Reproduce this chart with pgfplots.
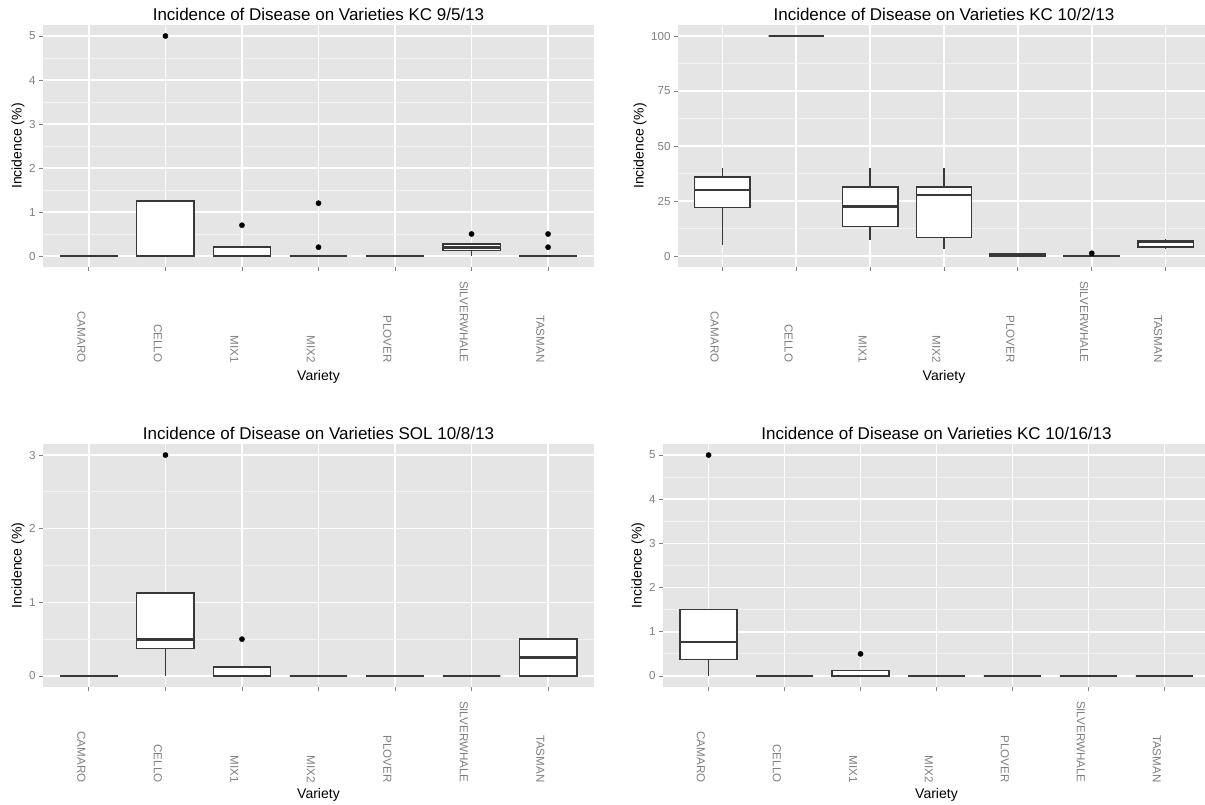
\documentclass[border=0pt]{standalone}
\usepackage{pgfplots}
\pgfplotsset{compat=1.18}
\usepgfplotslibrary{statistics}
\usepackage{fontspec}
\setmainfont{Liberation Sans}
\definecolor{ggbg}{HTML}{E5E5E5}
\definecolor{ggminor}{HTML}{F2F2F2}
\definecolor{ggtext}{HTML}{7F7F7F}
\definecolor{ggbox}{HTML}{383838}
\pgfplotsset{
  ggpanel/.style={
    scale only axis,
    xmin=0.4, xmax=7.6,
    xtick={1,2,3,4,5,6,7},
    xticklabels={CAMARO,CELLO,MIX1,MIX2,PLOVER,SILVERWHALE,TASMAN},
    axis background/.style={fill=ggbg},
    axis line style={draw=none},
    xmajorgrids=true, ymajorgrids=true, yminorgrids=true,
    major grid style={white, line width=1.6pt},
    minor grid style={ggminor, line width=0.8pt},
    tick align=outside, tick pos=left,
    major tick length=4pt, minor tick length=0pt,
    tick style={ggtext, line width=0.9pt},
    ticklabel style={font=\fontsize{11.6}{13}\selectfont, text=ggtext},
    xticklabel style={rotate=-90, anchor=north east},
    xticklabel shift=95pt,
    title style={font=\fontsize{17}{20}\selectfont, at={(0.5,1)}, anchor=base, yshift=-1.5pt},
    label style={font=\fontsize{14}{16}\selectfont},
    xlabel={Variety}, ylabel={Incidence (\%)},
    /pgf/number format/assume math mode=true,
  },
  boxst/.style={
    boxplot/draw direction=y,
    boxplot/box extend=0.75,
    boxplot/whisker extend=0,
    draw=ggbox, line width=1.5pt, fill=white, solid,
    boxplot/every median/.style={line width=2.8pt},
  },
  outl/.style={only marks, mark=*, mark size=2.6pt, black, mark options={draw=black, fill=black}},
}
% \bx{position}{lower whisker}{lower quartile}{median}{upper quartile}{upper whisker}
\newcommand{\bx}[6]{\addplot[boxst, boxplot prepared={draw position=#1, lower whisker=#2, lower quartile=#3, median=#4, upper quartile=#5, upper whisker=#6}] coordinates {};}
\begin{document}
\begin{tikzpicture}
\useasboundingbox (0,0) rectangle (1205pt,-804pt);
\clip (0,0) rectangle (1205pt,-804pt);
% Panel 1
\begin{axis}[ggpanel, at={(43pt,-267pt)}, anchor=south west, width=551pt, height=242pt,
  ymin=-0.25, ymax=5.25, ytick={0,1,2,3,4,5}, minor ytick={0.5,1.5,2.5,3.5,4.5},
  title={Incidence of Disease on Varieties KC 9/5/13},
  xlabel style={at={(axis description cs:0.5,-0.452)}, anchor=center},
  ylabel style={at={(axis description cs:-0.0454,0.5)}, anchor=center}]
\bx{1}{0}{0}{0}{0}{0}
\bx{2}{0}{0}{0}{1.25}{1.25}
\bx{3}{0}{0}{0}{0.2}{0.2}
\bx{4}{0}{0}{0}{0}{0}
\bx{5}{0}{0}{0}{0}{0}
\bx{6}{0}{0.125}{0.2}{0.27}{0.27}
\bx{7}{0}{0}{0}{0}{0}
\addplot[outl] coordinates {(2,5) (3,0.7) (4,0.2) (4,1.2) (6,0.5) (7,0.2) (7,0.5)};
\end{axis}
% Panel 2
\begin{axis}[ggpanel, at={(678pt,-267pt)}, anchor=south west, width=532pt, height=242pt,
  ymin=-5, ymax=105, ytick={0,25,50,75,100}, minor ytick={12.5,37.5,62.5,87.5},
  title={Incidence of Disease on Varieties KC 10/2/13},
  xlabel style={at={(axis description cs:0.5,-0.452)}, anchor=center},
  ylabel style={at={(axis description cs:-0.0714,0.5)}, anchor=center}]
\bx{1}{5}{22}{30}{36}{40}
\bx{2}{100}{100}{100}{100}{100}
\bx{3}{7.5}{13.3}{22.5}{31.4}{40}
\bx{4}{3}{8.4}{27.7}{31.4}{40}
\bx{5}{0}{0}{0.5}{1}{1.5}
\bx{6}{0}{0}{0}{0.3}{0.3}
\bx{7}{3.1}{4.2}{6.5}{7}{7.7}
\addplot[outl] coordinates {(6,1.25)};
\end{axis}
% Panel 3
\begin{axis}[ggpanel, at={(43pt,-687pt)}, anchor=south west, width=551pt, height=243pt,
  ymin=-0.15, ymax=3.15, ytick={0,1,2,3}, minor ytick={0.5,1.5,2.5},
  title={Incidence of Disease on Varieties SOL 10/8/13},
  xlabel style={at={(axis description cs:0.5,-0.444)}, anchor=center},
  ylabel style={at={(axis description cs:-0.0454,0.5)}, anchor=center}]
\bx{1}{0}{0}{0}{0}{0}
\bx{2}{0}{0.375}{0.5}{1.125}{1.125}
\bx{3}{0}{0}{0}{0.125}{0.125}
\bx{4}{0}{0}{0}{0}{0}
\bx{5}{0}{0}{0}{0}{0}
\bx{6}{0}{0}{0}{0}{0}
\bx{7}{0}{0}{0.25}{0.5}{0.5}
\addplot[outl] coordinates {(2,3) (3,0.5)};
\end{axis}
% Panel 4
\begin{axis}[ggpanel, at={(663pt,-687pt)}, anchor=south west, width=547pt, height=243pt,
  ymin=-0.25, ymax=5.25, ytick={0,1,2,3,4,5}, minor ytick={0.5,1.5,2.5,3.5,4.5},
  title={Incidence of Disease on Varieties KC 10/16/13},
  xlabel style={at={(axis description cs:0.5,-0.444)}, anchor=center},
  ylabel style={at={(axis description cs:-0.0457,0.5)}, anchor=center}]
\bx{1}{0}{0.375}{0.77}{1.5}{1.5}
\bx{2}{0}{0}{0}{0}{0}
\bx{3}{0}{0}{0}{0.125}{0.125}
\bx{4}{0}{0}{0}{0}{0}
\bx{5}{0}{0}{0}{0}{0}
\bx{6}{0}{0}{0}{0}{0}
\bx{7}{0}{0}{0}{0}{0}
\addplot[outl] coordinates {(1,5) (3,0.5)};
\end{axis}
\end{tikzpicture}
\end{document}
